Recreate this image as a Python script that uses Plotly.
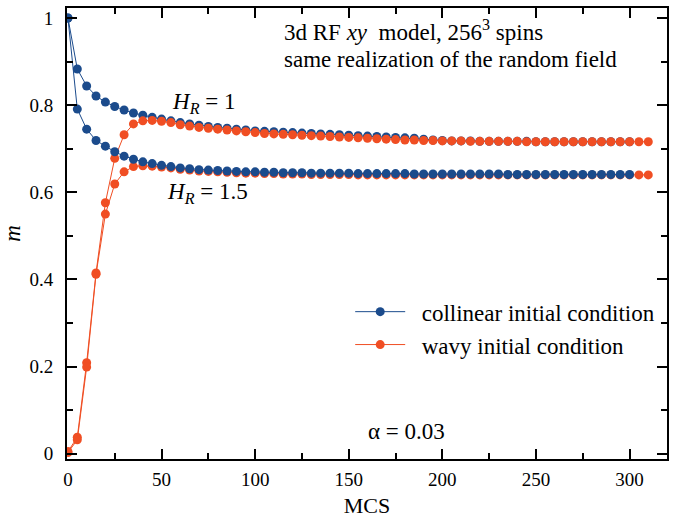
import plotly.graph_objects as go

mcs_blue = list(range(0, 301, 5))
mcs_red = list(range(0, 311, 5))

collinear_hr1 = [1.000, 0.883, 0.844, 0.821, 0.807, 0.797, 0.789, 0.782, 0.777, 0.772,
                 0.768, 0.764, 0.760, 0.757, 0.754, 0.751, 0.749, 0.747, 0.745, 0.743,
                 0.741, 0.740, 0.739, 0.738, 0.737, 0.736, 0.735, 0.734, 0.733, 0.732,
                 0.731, 0.730, 0.729, 0.728, 0.727, 0.726, 0.725, 0.724, 0.722, 0.720,
                 0.719, 0.718, 0.718, 0.718, 0.717, 0.717, 0.717, 0.717, 0.717, 0.717,
                 0.716, 0.716, 0.716, 0.716, 0.716, 0.716, 0.716, 0.716, 0.716, 0.716,
                 0.716]
wavy_hr1 = [0.005, 0.038, 0.209, 0.415, 0.576, 0.678, 0.732, 0.757, 0.764, 0.765,
            0.763, 0.760, 0.755, 0.752, 0.749, 0.747, 0.745, 0.743, 0.741, 0.739,
            0.737, 0.735, 0.734, 0.733, 0.732, 0.731, 0.730, 0.729, 0.728, 0.727,
            0.726, 0.725, 0.724, 0.723, 0.722, 0.721, 0.720, 0.720, 0.719, 0.719,
            0.718, 0.718, 0.718, 0.717, 0.717, 0.717, 0.717, 0.717, 0.717, 0.716,
            0.716, 0.716, 0.716, 0.716, 0.716, 0.716, 0.716, 0.716, 0.716, 0.716,
            0.716, 0.716, 0.716]
collinear_hr15 = [1.000, 0.791, 0.745, 0.719, 0.706, 0.693, 0.683, 0.676, 0.670, 0.666,
                  0.662, 0.659, 0.656, 0.654, 0.652, 0.651, 0.650, 0.649, 0.648, 0.647,
                  0.647, 0.646, 0.646, 0.645, 0.645, 0.645, 0.644, 0.644, 0.644, 0.644,
                  0.644, 0.643, 0.643, 0.643, 0.643, 0.643, 0.643, 0.642, 0.642, 0.642,
                  0.642, 0.642, 0.642, 0.642, 0.642, 0.642, 0.642, 0.641, 0.641, 0.641,
                  0.641, 0.641, 0.641, 0.641, 0.641, 0.641, 0.641, 0.641, 0.641, 0.641,
                  0.641]
wavy_hr15 = [0.003, 0.032, 0.199, 0.412, 0.550, 0.619, 0.647, 0.659, 0.661, 0.660,
             0.658, 0.656, 0.653, 0.651, 0.649, 0.648, 0.647, 0.646, 0.645, 0.644,
             0.644, 0.643, 0.643, 0.642, 0.642, 0.642, 0.641, 0.641, 0.641, 0.641,
             0.641, 0.640, 0.640, 0.640, 0.640, 0.640, 0.640, 0.640, 0.640, 0.640,
             0.640, 0.640, 0.640, 0.640, 0.640, 0.640, 0.640, 0.640, 0.640, 0.640,
             0.640, 0.640, 0.640, 0.640, 0.640, 0.640, 0.640, 0.640, 0.640, 0.640,
             0.640, 0.640, 0.640]

BLUE = "#1b4b8c"
RED = "#f04e23"
FONT = "Liberation Serif"

fig = go.Figure()
fig.add_trace(go.Scatter(x=mcs_blue, y=collinear_hr1, mode="lines+markers",
                         name="&nbsp;&nbsp;collinear initial condition",
                         line=dict(color=BLUE, width=1), marker=dict(color=BLUE, size=9)))
fig.add_trace(go.Scatter(x=mcs_red, y=wavy_hr1, mode="lines+markers",
                         name="&nbsp;&nbsp;wavy initial condition",
                         line=dict(color=RED, width=1), marker=dict(color=RED, size=9)))
fig.add_trace(go.Scatter(x=mcs_red, y=wavy_hr15, mode="lines+markers", showlegend=False,
                         line=dict(color=RED, width=1), marker=dict(color=RED, size=9)))
fig.add_trace(go.Scatter(x=mcs_blue, y=collinear_hr15, mode="lines+markers", showlegend=False,
                         line=dict(color=BLUE, width=1), marker=dict(color=BLUE, size=9)))

axis_common = dict(showline=True, linecolor="black", linewidth=2, mirror="allticks",
                   ticks="inside", ticklen=10, tickwidth=2, tickcolor="black",
                   showgrid=False, zeroline=False, automargin=False,
                   tickfont=dict(family=FONT, size=19, color="black"))

fig.update_xaxes(range=[-0.5, 320], tickvals=[0, 50, 100, 150, 200, 250, 300],
                 minor=dict(ticks="inside", dtick=25, tick0=0, ticklen=6, tickwidth=1.5,
                            tickcolor="black", showgrid=False),
                 ticklabelstandoff=2,
                 title=dict(text="MCS", font=dict(family=FONT, size=22, color="black"),
                            standoff=16),
                 **axis_common)
fig.update_yaxes(range=[-0.012, 1.023], tickvals=[0, 0.2, 0.4, 0.6, 0.8, 1],
                 ticktext=["0", "0.2", "0.4", "0.6", "0.8", "1"],
                 minor=dict(ticks="inside", dtick=0.1, tick0=0, ticklen=6, tickwidth=1.5,
                            tickcolor="black", showgrid=False),
                 ticklabelstandoff=8,
                 title=dict(text="<i>m</i>", font=dict(family=FONT, size=23, color="black"),
                            standoff=4),
                 **axis_common)

txt = dict(family=FONT, size=23, color="black")
fig.add_annotation(x=0.359, y=0.951, xref="paper", yref="paper", xanchor="left", yanchor="middle",
                   text="3d RF <i>xy</i>  model, 256<sup>3</sup> spins", showarrow=False, font=txt)
fig.add_annotation(x=0.359, y=0.885, xref="paper", yref="paper", xanchor="left", yanchor="middle",
                   text="same realization of the random field", showarrow=False, font=txt)
fig.add_annotation(x=0.172, y=0.79, xref="paper", yref="paper", xanchor="left", yanchor="middle",
                   text="<i>H</i><sub><i>R</i></sub> = 1", showarrow=False, font=txt)
fig.add_annotation(x=0.164, y=0.59, xref="paper", yref="paper", xanchor="left", yanchor="middle",
                   text="<i>H</i><sub><i>R</i></sub> = 1.5", showarrow=False, font=txt)
fig.add_annotation(x=0.499, y=0.06, xref="paper", yref="paper", xanchor="left", yanchor="middle",
                   text="α = 0.03", showarrow=False, font=txt)

fig.update_layout(width=674, height=518, margin=dict(l=67, r=7, t=8, b=59),
                  paper_bgcolor="white", plot_bgcolor="white",
                  legend=dict(x=0.472, y=0.29, xanchor="left", yanchor="middle",
                              bgcolor="rgba(0,0,0,0)", itemwidth=50,
                              font=dict(family=FONT, size=23, color="black")))

fig.write_html("out.html")
